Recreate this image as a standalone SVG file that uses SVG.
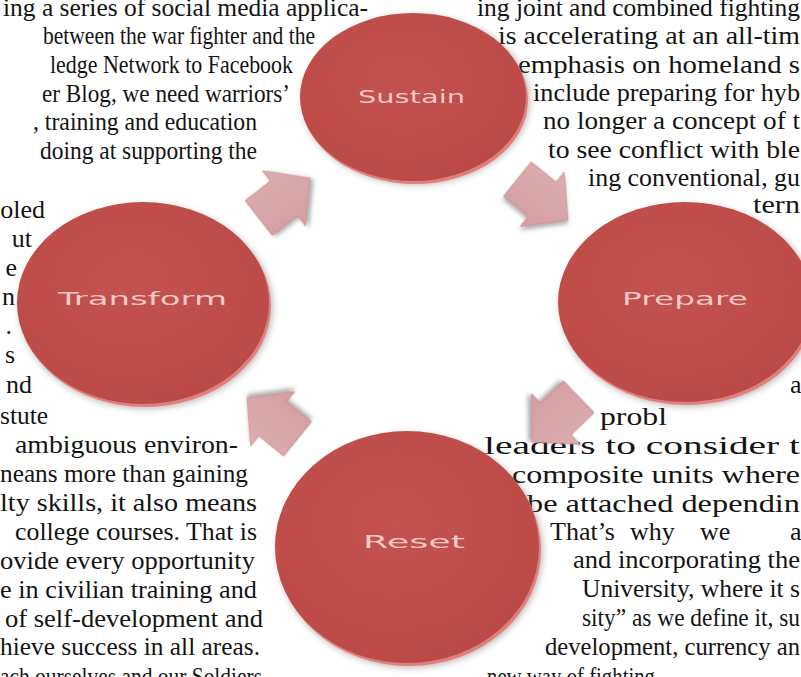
<svg xmlns="http://www.w3.org/2000/svg" width="801" height="677" viewBox="0 0 801 677">
<defs>
<style>
.body{font-family:"Liberation Serif","Times New Roman",serif;font-size:26px;fill:#141414;}
.label{font-family:"DejaVu Sans","Liberation Sans",sans-serif;font-size:18px;fill:#f3d6d5;fill-opacity:0.92;}
.shadow{fill:#7a6a6a;opacity:0.45;filter:url(#blur4);}
.rim{fill:#e0807c;}
.top{fill:url(#discGrad);}
.arrow{fill:url(#arrowGrad);stroke:#c9898c;stroke-width:0.8;filter:url(#arrowShadow);}
</style>
<radialGradient id="discGrad" cx="0.45" cy="0.4" r="0.65">
<stop offset="0" stop-color="#c4524f"/>
<stop offset="0.85" stop-color="#bd4c49"/>
<stop offset="1" stop-color="#b84845"/>
</radialGradient>
<linearGradient id="arrowGrad" x1="0" y1="0" x2="0" y2="1">
<stop offset="0" stop-color="#dcadb0"/>
<stop offset="1" stop-color="#d59ea1"/>
</linearGradient>
<filter id="blur4" x="-20%" y="-20%" width="140%" height="140%"><feGaussianBlur stdDeviation="3"/></filter>
<filter id="arrowShadow" x="-30%" y="-30%" width="160%" height="160%"><feDropShadow dx="2" dy="3" stdDeviation="2" flood-color="#6e6e6e" flood-opacity="0.55"/></filter>
</defs>
<rect width="801" height="677" fill="#ffffff"/>

<g id="body-text" class="body">
<text x="3" y="16" textLength="365" lengthAdjust="spacingAndGlyphs">ing a series of social media applica-</text>
<text x="43" y="44" textLength="272" lengthAdjust="spacingAndGlyphs">between the war fighter and the</text>
<text x="50" y="73" textLength="243" lengthAdjust="spacingAndGlyphs">ledge Network to Facebook</text>
<text x="42" y="102" textLength="248" lengthAdjust="spacingAndGlyphs">er Blog, we need warriors’</text>
<text x="33" y="130" textLength="224" lengthAdjust="spacingAndGlyphs">, training and education</text>
<text x="40" y="159" textLength="217" lengthAdjust="spacingAndGlyphs">doing at supporting the</text>
<text x="45" y="218" text-anchor="end">oled</text>
<text x="32" y="247" text-anchor="end">ut</text>
<text x="17" y="276" text-anchor="end">e</text>
<text x="15" y="305" text-anchor="end">n</text>
<text x="12" y="334" text-anchor="end">.</text>
<text x="15" y="363" text-anchor="end">s</text>
<text x="32" y="393" text-anchor="end">nd</text>
<text x="0" y="424" textLength="48" lengthAdjust="spacingAndGlyphs">stute</text>
<text x="15" y="453" textLength="223" lengthAdjust="spacingAndGlyphs">ambiguous environ-</text>
<text x="0" y="482" textLength="248" lengthAdjust="spacingAndGlyphs">neans more than gaining</text>
<text x="0" y="511" textLength="257" lengthAdjust="spacingAndGlyphs">lty skills, it also means</text>
<text x="15" y="540" textLength="242" lengthAdjust="spacingAndGlyphs">college courses. That is</text>
<text x="0" y="569" textLength="255" lengthAdjust="spacingAndGlyphs">ovide every opportunity</text>
<text x="0" y="598" textLength="257" lengthAdjust="spacingAndGlyphs">e in civilian training and</text>
<text x="5" y="627" textLength="258" lengthAdjust="spacingAndGlyphs">of self-development and</text>
<text x="0" y="655" textLength="260" lengthAdjust="spacingAndGlyphs">hieve success in all areas.</text>
<text x="0" y="685" textLength="262" lengthAdjust="spacingAndGlyphs">ach ourselves and our Soldiers</text>

<text x="477" y="16" textLength="323" lengthAdjust="spacingAndGlyphs">ing joint and combined fighting</text>
<text x="498" y="44" textLength="302" lengthAdjust="spacingAndGlyphs">is accelerating at an all-tim</text>
<text x="518" y="73" textLength="282" lengthAdjust="spacingAndGlyphs">emphasis on homeland s</text>
<text x="533" y="101" textLength="267" lengthAdjust="spacingAndGlyphs">include preparing for hyb</text>
<text x="543" y="129" textLength="257" lengthAdjust="spacingAndGlyphs">no longer a concept of t</text>
<text x="548" y="158" textLength="252" lengthAdjust="spacingAndGlyphs">to see conflict with ble</text>
<text x="588" y="186" textLength="212" lengthAdjust="spacingAndGlyphs">ing conventional, gu</text>
<text x="753" y="213" textLength="47" lengthAdjust="spacingAndGlyphs">tern</text>
<text x="790" y="393">a</text>
<text x="600" y="425" textLength="67" lengthAdjust="spacingAndGlyphs">probl</text>
<text x="484" y="454" textLength="316" lengthAdjust="spacingAndGlyphs">leaders to consider t</text>
<text x="512" y="483" textLength="288" lengthAdjust="spacingAndGlyphs">composite units where</text>
<text x="527" y="512" textLength="273" lengthAdjust="spacingAndGlyphs">be attached dependin</text>
<text y="540"><tspan x="550">That’s</tspan><tspan x="630">why</tspan><tspan x="700">we</tspan><tspan x="790">a</tspan></text>
<text x="573" y="568" textLength="227" lengthAdjust="spacingAndGlyphs">and incorporating the</text>
<text x="582" y="597" textLength="218" lengthAdjust="spacingAndGlyphs">University, where it s</text>
<text x="582" y="626" textLength="218" lengthAdjust="spacingAndGlyphs">sity” as we define it, su</text>
<text x="545" y="655" textLength="255" lengthAdjust="spacingAndGlyphs">development, currency an</text>
<text x="487" y="685" textLength="168" lengthAdjust="spacingAndGlyphs">new way of fighting</text>
</g>

<g id="connectors">
<path class="arrow" transform="translate(310,178) rotate(-38)" d="M-65,-22 L-33,-22 L-33,-35 L0,0 L-33,35 L-33,22 L-65,22 Z"/>
<path class="arrow" transform="translate(568,220) rotate(39)" d="M-65,-22 L-33,-22 L-33,-35 L0,0 L-33,35 L-33,22 L-65,22 Z"/>
<path class="arrow" transform="translate(532,442) rotate(136)" d="M-65,-22 L-33,-22 L-33,-35 L0,0 L-33,35 L-33,22 L-65,22 Z"/>
<path class="arrow" transform="translate(247,398) rotate(-141)" d="M-65,-22 L-33,-22 L-33,-35 L0,0 L-33,35 L-33,22 L-65,22 Z"/>
</g>

<g id="node-sustain">
<ellipse class="shadow" cx="416" cy="100" rx="114" ry="85"/>
<ellipse class="rim" cx="415" cy="100" rx="113" ry="84"/>
<ellipse class="top" cx="413" cy="97" rx="113" ry="84"/>
<text class="label" x="358" y="103" textLength="107" lengthAdjust="spacingAndGlyphs">Sustain</text>
</g>

<g id="node-prepare">
<ellipse class="shadow" cx="688" cy="306" rx="128" ry="101"/>
<ellipse class="rim" cx="687" cy="305" rx="127" ry="100"/>
<ellipse class="top" cx="685" cy="302" rx="127" ry="100"/>
<text class="label" x="622" y="305" textLength="126" lengthAdjust="spacingAndGlyphs">Prepare</text>
</g>

<g id="node-reset">
<ellipse class="shadow" cx="410" cy="551" rx="133" ry="117"/>
<ellipse class="rim" cx="409" cy="550" rx="132" ry="116"/>
<ellipse class="top" cx="407" cy="547" rx="132" ry="116"/>
<text class="label" x="363" y="548" textLength="102" lengthAdjust="spacingAndGlyphs">Reset</text>
</g>

<g id="node-transform">
<ellipse class="shadow" cx="146" cy="307" rx="127" ry="102"/>
<ellipse class="rim" cx="145" cy="306" rx="126" ry="101"/>
<ellipse class="top" cx="143" cy="303" rx="126" ry="101"/>
<text class="label" x="58" y="305" textLength="169" lengthAdjust="spacingAndGlyphs">Transform</text>
</g>
</svg>
